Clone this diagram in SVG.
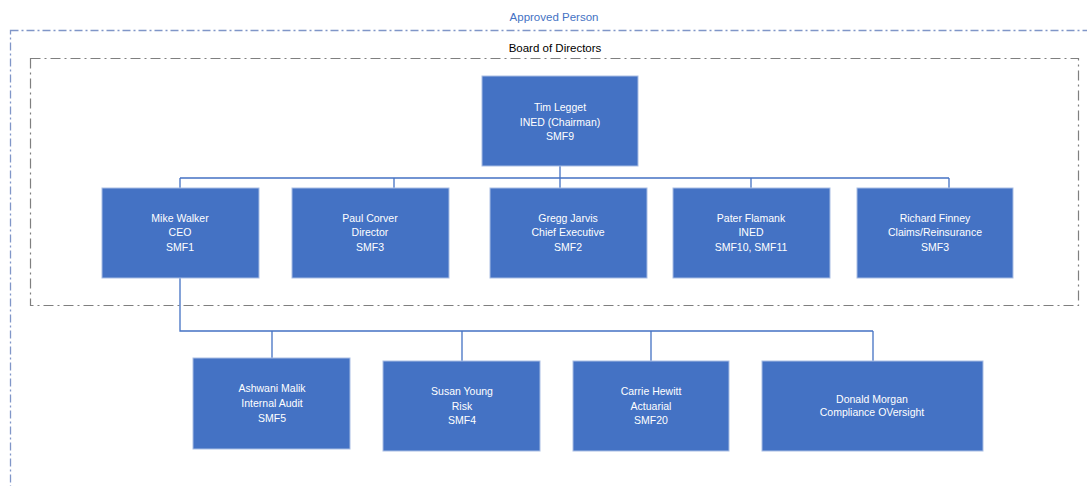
<svg xmlns="http://www.w3.org/2000/svg" width="1087" height="486" viewBox="0 0 1087 486">
<style>
.box{fill:#4472C4;stroke:#A9BEE4;stroke-width:1}
.t{font-family:"Liberation Sans",Arial,sans-serif;font-size:10.5px;fill:#ffffff;text-anchor:middle}
.conn{fill:none;stroke:#4472C4;stroke-width:1.3}
.lbl{font-family:"Liberation Sans",Arial,sans-serif;font-size:11.5px;text-anchor:middle}
</style>
<rect width="1087" height="486" fill="#ffffff"/>
<g id="approved-person">
<rect x="10.5" y="30.5" width="1090" height="480" fill="none" stroke="#8096C8" stroke-width="1.3" stroke-dasharray="8,3,2,3"/>
<text class="lbl" x="554" y="21" fill="#4472C4">Approved Person</text>
</g>
<g id="board-of-directors">
<rect x="30.5" y="58.5" width="1048" height="247" fill="none" stroke="#7F7F7F" stroke-width="1.2" stroke-dasharray="10,4,2,4"/>
<text class="lbl" x="555" y="52" fill="#000000">Board of Directors</text>
</g>
<g id="connectors">
<path class="conn" d="M560 166V178M180 178H949M180 178V188M394 178V188M560 178V188M751 178V188M949 178V188"/>
<path class="conn" d="M180 278V331H873M272 331V358M462 331V361M651 331V361M873 331V361"/>
</g>
<g id="tim-legget">
<rect class="box" x="482" y="76" width="156" height="90"/>
<text class="t" x="560" y="111">Tim Legget</text>
<text class="t" x="560" y="126">INED (Chairman)</text>
<text class="t" x="560" y="140">SMF9</text>
</g>
<g id="mike-walker">
<rect class="box" x="102" y="188" width="157" height="90"/>
<text class="t" x="180" y="222">Mike Walker</text>
<text class="t" x="180" y="236">CEO</text>
<text class="t" x="180" y="251">SMF1</text>
</g>
<g id="paul-corver">
<rect class="box" x="292" y="188" width="157" height="90"/>
<text class="t" x="370" y="222">Paul Corver</text>
<text class="t" x="370" y="236">Director</text>
<text class="t" x="370" y="251">SMF3</text>
</g>
<g id="gregg-jarvis">
<rect class="box" x="490" y="188" width="157" height="90"/>
<text class="t" x="568" y="222">Gregg Jarvis</text>
<text class="t" x="568" y="236">Chief Executive</text>
<text class="t" x="568" y="251">SMF2</text>
</g>
<g id="pater-flamank">
<rect class="box" x="673" y="188" width="157" height="90"/>
<text class="t" x="751" y="222">Pater Flamank</text>
<text class="t" x="751" y="236">INED</text>
<text class="t" x="751" y="251">SMF10, SMF11</text>
</g>
<g id="richard-finney">
<rect class="box" x="857" y="188" width="156" height="90"/>
<text class="t" x="935" y="222">Richard Finney</text>
<text class="t" x="935" y="236">Claims/Reinsurance</text>
<text class="t" x="935" y="251">SMF3</text>
</g>
<g id="ashwani-malik">
<rect class="box" x="193" y="358" width="157" height="91"/>
<text class="t" x="272" y="392">Ashwani Malik</text>
<text class="t" x="272" y="407">Internal Audit</text>
<text class="t" x="272" y="422">SMF5</text>
</g>
<g id="susan-young">
<rect class="box" x="383" y="361" width="157" height="90"/>
<text class="t" x="462" y="395">Susan Young</text>
<text class="t" x="462" y="410">Risk</text>
<text class="t" x="462" y="424">SMF4</text>
</g>
<g id="carrie-hewitt">
<rect class="box" x="573" y="361" width="156" height="90"/>
<text class="t" x="651" y="395">Carrie Hewitt</text>
<text class="t" x="651" y="410">Actuarial</text>
<text class="t" x="651" y="424">SMF20</text>
</g>
<g id="donald-morgan">
<rect class="box" x="762" y="361" width="221" height="90"/>
<text class="t" x="872" y="403">Donald Morgan</text>
<text class="t" x="872" y="416">Compliance OVersight</text>
</g>
</svg>
